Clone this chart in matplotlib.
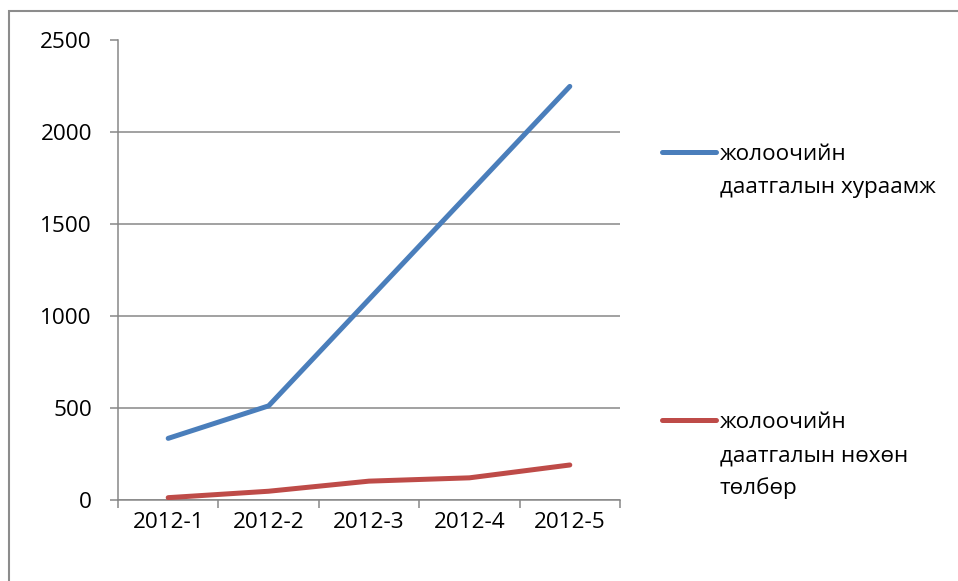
import matplotlib
matplotlib.use("Agg")
import matplotlib.pyplot as plt
from matplotlib.lines import Line2D
from matplotlib.patches import Rectangle

categories = ["2012-1", "2012-2", "2012-3", "2012-4", "2012-5"]
premium = [333, 510, 1090, 1670, 2250]
payment = [10, 45, 100, 118, 188]
series_labels = ["жолоочийн\nдаатгалын хураамж", "жолоочийн\nдаатгалын нөхөн\nтөлбөр"]
series_colors = ["#4A7EBB", "#BE4B48"]
yticks = [0, 500, 1000, 1500, 2000, 2500]

plt.rcParams['font.family'] = ['Open Sans', 'DejaVu Sans']
FS = 16.2
W, H = 958, 581
fig = plt.figure(figsize=(W / 100, H / 100), dpi=100)

# outer chart border (top and left visible)
fig.add_artist(Rectangle((9 / W, -0.1), 1.2, (H - 11) / H + 0.1, transform=fig.transFigure,
                         fill=False, edgecolor="#8C8C8C", linewidth=1.5))

ax = fig.add_axes([118 / W, (H - 499.5) / H, 502 / W, 459 / H])
grid_c = "#878787"
x = list(range(len(categories)))
for vals, col in zip([premium, payment], series_colors):
    ax.plot(x, vals, color=col, linewidth=3.6, solid_capstyle="round", solid_joinstyle="round", zorder=3)

ax.set_xlim(-0.5, len(categories) - 0.5)
ax.set_ylim(0, 2500)
ax.set_yticks(yticks)
ax.set_yticklabels([str(v) for v in yticks], fontsize=FS)
ax.yaxis.grid(True, color=grid_c, linewidth=1.1)
ax.set_axisbelow(True)
ax.tick_params(axis="y", direction="out", length=5.8, width=1.1, color=grid_c, pad=13)

# category boundary ticks
ax.set_xticks([i - 0.5 for i in range(len(categories) + 1)])
ax.set_xticklabels([])
ax.tick_params(axis="x", which="major", direction="out", length=5.8, width=1.1, color=grid_c)
ax.set_xticks(x, minor=True)
ax.set_xticklabels(categories, minor=True, fontsize=FS)
ax.tick_params(axis="x", which="minor", length=0, pad=9)

for s in ["top", "right"]:
    ax.spines[s].set_visible(False)
for s in ["left", "bottom"]:
    ax.spines[s].set_color(grid_c)
    ax.spines[s].set_linewidth(1.1)

# legend (drawn manually to match Excel layout: handle aligned with first text line)
leg_y = [152, 420]
line_gap = 33
for lab, col, yy in zip(series_labels, series_colors, leg_y):
    fig.add_artist(Line2D([662 / W, 716 / W], [1 - yy / H, 1 - yy / H], transform=fig.transFigure,
                          color=col, linewidth=3.6, solid_capstyle="round"))
    for k, part in enumerate(lab.split("\n")):
        fig.text(720 / W, 1 - (yy + 8 + k * line_gap) / H, part, fontsize=FS,
                 va="baseline", ha="left", color="black")

fig.savefig("out.png", dpi=100)
